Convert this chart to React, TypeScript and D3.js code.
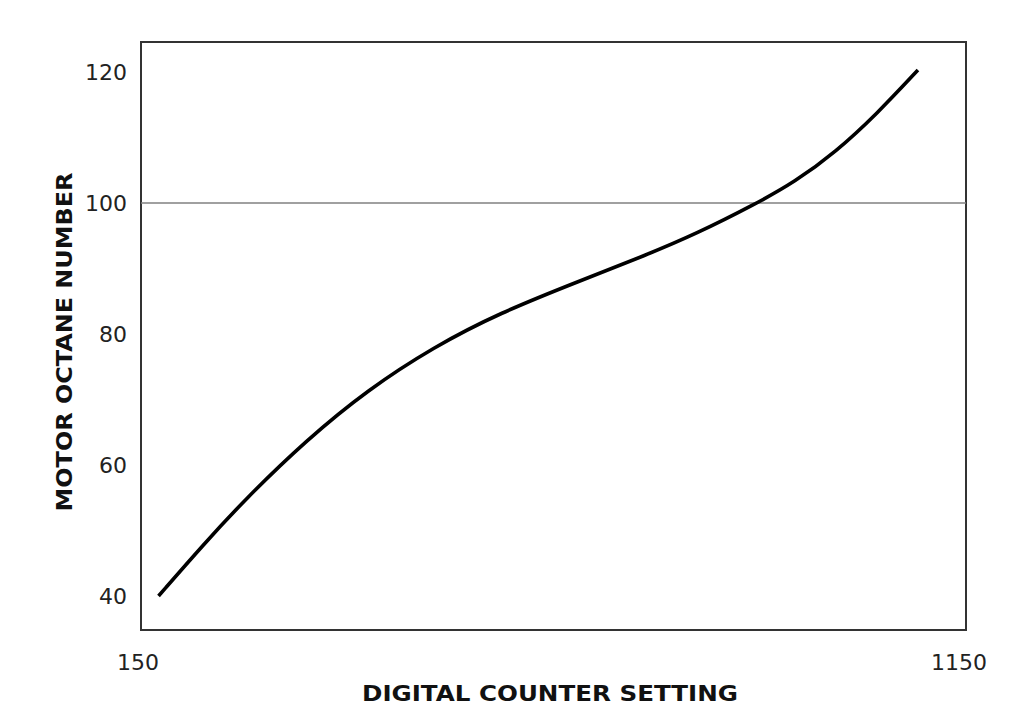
import React from "react";
import * as d3 from "d3";

// Calibration curve: digital counter setting vs. motor octane number
const counterSetting = [175, 230, 280, 355, 430, 510, 590, 690, 770, 830, 900, 950, 1000, 1050, 1100];
const octaneNumber = [40, 47.9, 54.7, 63.8, 71.5, 78, 83.2, 88.2, 92.1, 95.3, 99.7, 103.2, 107.8, 113.6, 120.3];

const xTicks = [150, 1150];
const yTicks = [40, 60, 80, 100, 120];
const referenceOctane = 100;

const xTitle = "DIGITAL COUNTER SETTING";
const yTitle = "MOTOR OCTANE NUMBER";

const W = 1024;
const H = 715;
const FONT = "'DejaVu Sans', Verdana, Tahoma, sans-serif";

export default function App() {
  const x = d3.scaleLinear().domain([150, 1150]).range([138, 959]);
  const y = d3.scaleLinear().domain([40, 120]).range([596, 72]);

  // frame of the plotting area
  const box = { left: 141, right: 966, top: 42, bottom: 630 };

  const points = counterSetting.map((c, i) => [c, octaneNumber[i]] as [number, number]);
  const line = d3
    .line<[number, number]>()
    .x((d) => x(d[0]))
    .y((d) => y(d[1]))
    .curve(d3.curveBasis);

  return (
    <svg
      width={W}
      height={H}
      style={{ position: "absolute", left: 0, top: 0, background: "#fff" }}
    >
      <rect x={0} y={0} width={W} height={H} fill="#fff" />
      <rect
        x={box.left}
        y={box.top}
        width={box.right - box.left}
        height={box.bottom - box.top}
        fill="none"
        stroke="#333"
        strokeWidth={2}
      />
      <line
        x1={box.left}
        x2={box.right}
        y1={y(referenceOctane)}
        y2={y(referenceOctane)}
        stroke="#808080"
        strokeWidth={1.5}
      />
      <path
        d={line(points) || ""}
        fill="none"
        stroke="#000"
        strokeWidth={3.6}
        strokeLinecap="butt"
      />

      {yTicks.map((t) => (
        <text
          key={t}
          x={127}
          y={y(t)}
          dy="0.36em"
          textAnchor="end"
          fontFamily={FONT}
          fontSize={22}
          fill="#222"
        >
          {t}
        </text>
      ))}

      {xTicks.map((t) => (
        <text
          key={t}
          x={x(t)}
          y={670}
          textAnchor="middle"
          fontFamily={FONT}
          fontSize={22}
          fill="#222"
        >
          {t}
        </text>
      ))}

      <text
        x={550}
        y={701}
        textAnchor="middle"
        fontFamily={FONT}
        fontWeight="bold"
        fontSize={21}
        textLength={376}
        lengthAdjust="spacingAndGlyphs"
        fill="#111"
      >
        {xTitle}
      </text>

      <text
        transform={`translate(72, 342) rotate(-90)`}
        textAnchor="middle"
        fontFamily={FONT}
        fontWeight="bold"
        fontSize={21}
        textLength={339}
        lengthAdjust="spacingAndGlyphs"
        fill="#111"
      >
        {yTitle}
      </text>
    </svg>
  );
}
